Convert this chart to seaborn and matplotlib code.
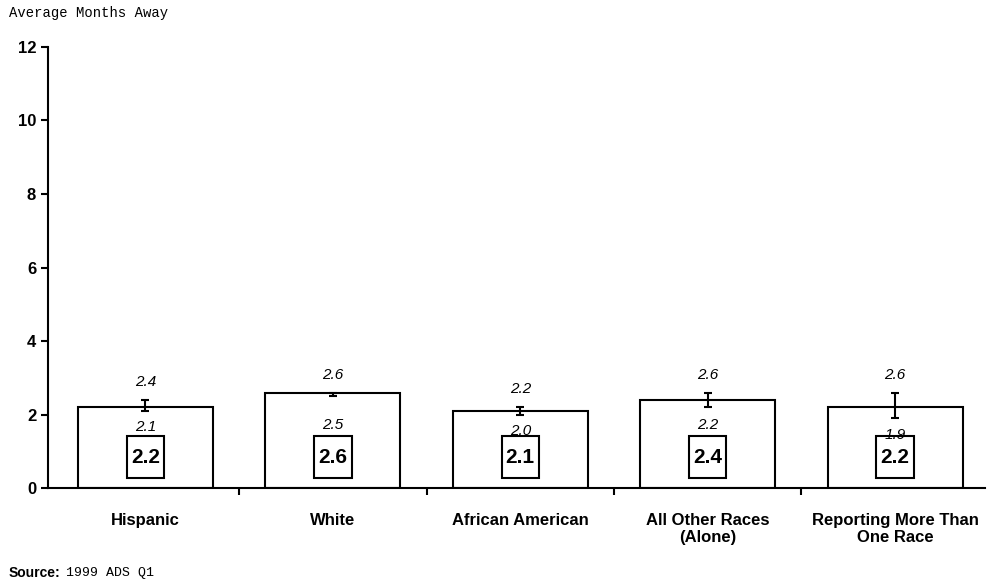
import numpy as np
import pandas as pd
import matplotlib
matplotlib.use("Agg")
import matplotlib.pyplot as plt
import seaborn as sns
from matplotlib.patches import Rectangle

# values
groups = ["Hispanic", "White", "African American",
          "All Other Races\n(Alone)", "Reporting More Than\nOne Race"]
means = [2.2, 2.6, 2.1, 2.4, 2.2]
upper = [2.4, 2.6, 2.2, 2.6, 2.6]
lower = [2.1, 2.5, 2.0, 2.2, 1.9]

df = pd.DataFrame({"group": groups, "months": means})

sns.set_style("white")
plt.rcParams["font.family"] = ["Liberation Sans", "DejaVu Sans"]
plt.rcParams["text.color"] = "black"
plt.rcParams["xtick.color"] = "black"
plt.rcParams["ytick.color"] = "black"
plt.rcParams["axes.edgecolor"] = "black"

fig = plt.figure(figsize=(9.89, 5.86), dpi=100)
ax = fig.add_axes([0.0485, 0.167, 0.9475, 0.753])

sns.barplot(data=df, x="group", y="months", color="white", edgecolor="black",
            linewidth=1.5, width=0.72, ax=ax, saturation=1)

x = np.arange(len(groups))
ax.errorbar(x, (np.array(upper) + np.array(lower)) / 2,
            yerr=(np.array(upper) - np.array(lower)) / 2,
            fmt="none", ecolor="black", elinewidth=1.5, capsize=3, capthick=1.5)

for i in range(len(groups)):
    ax.text(x[i], upper[i] + 0.3, f"{upper[i]:.1f}", ha="center", va="bottom",
            fontsize=11, style="italic")
    ax.add_patch(Rectangle((x[i] - 0.1, 0.28), 0.2, 1.13, facecolor="white",
                           edgecolor="black", linewidth=1.5, zorder=4))
    # lower label sits just under the error bar, but never far above the box
    ax.text(x[i], min(lower[i] - 0.45, 1.72), f"{lower[i]:.1f}", ha="center",
            va="center", fontsize=11, style="italic", zorder=6)
    ax.text(x[i], 0.82, f"{means[i]:.1f}", ha="center", va="center",
            fontsize=15, fontweight="bold", zorder=5)

ax.set_xlim(-0.52, 4.48)
ax.set_ylim(0, 12)
ax.set_yticks(range(0, 13, 2))
ax.set_yticklabels([str(v) for v in range(0, 13, 2)], fontsize=12, fontweight="bold")
ax.set_xticks(x)
ax.set_xticklabels(groups, fontsize=12, fontweight="bold", linespacing=1.15)
ax.tick_params(axis="x", length=0, pad=18)
ax.tick_params(axis="y", length=5, width=1.5, direction="out", left=True)
ax.set_xticks(x[:-1] + 0.5, minor=True)
ax.tick_params(axis="x", which="minor", length=5, width=1.5, direction="out", bottom=True)
ax.set_xlabel("")
ax.set_ylabel("")
sns.despine(ax=ax)
ax.spines["left"].set_linewidth(1.5)
ax.spines["bottom"].set_linewidth(1.5)

fig.text(0.009, 0.978, "Average Months Away", fontsize=10, family="Liberation Mono",
         va="center", ha="left")
fig.text(0.009, 0.022, "Source:", fontsize=10, fontweight="bold", va="center", ha="left")
fig.text(0.067, 0.022, "1999 ADS Q1", fontsize=9.5, family="Liberation Mono",
         va="center", ha="left")

fig.savefig("out.png", dpi=100)
